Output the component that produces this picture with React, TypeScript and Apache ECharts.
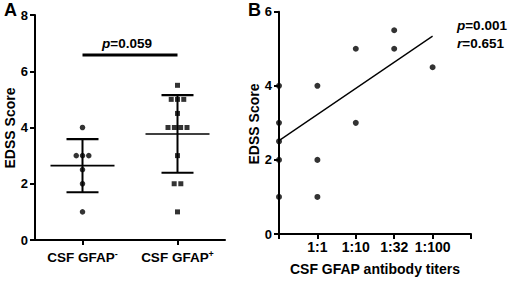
import React, { useEffect, useRef } from "react";
import * as echarts from "echarts";

// Panel A data
const groupLabels = ["CSF GFAP{sup|-}", "CSF GFAP{sup|+}"];
const gfapNeg = [4, 3, 3, 3, 2.5, 2, 1];
const gfapNegJitter = [0, -0.066, 0, 0.066, 0, 0, 0];
const gfapPos = [5.5, 5, 5, 5, 4.5, 4, 4, 4, 4, 3, 2, 2, 1];
const gfapPosJitter = [0, -0.066, 0, 0.066, 0, -0.1, -0.033, 0.033, 0.1, 0, -0.035, 0.035, 0];
const pValueA = "0.059";
const pBarY = 6.58;
const yNameA = "EDSS Score";

// Panel B data
const titerLabels = ["", "1:1", "1:10", "1:32", "1:100", ""];
const titerX = [0, 0, 0, 0, 0, 1, 1, 1, 2, 2, 3, 3, 4];
const titerY = [4, 3, 2.5, 2, 1, 4, 2, 1, 5, 3, 5.5, 5, 4.5];
const fitLine = [
  [0, 2.52],
  [4, 5.34],
];
const pValueB = "0.001";
const rValueB = "0.651";
const yNameB = "EDSS Score";
const xNameB = "CSF GFAP antibody titers";

const FONT = "'Liberation Sans', Arial, sans-serif";

function meanSd(v: number[]) {
  const m = v.reduce((a, b) => a + b, 0) / v.length;
  const s = Math.sqrt(v.reduce((a, b) => a + (b - m) * (b - m), 0) / (v.length - 1));
  return [m, s];
}

export default function App() {
  const ref = useRef<HTMLDivElement>(null);
  useEffect(() => {
    if (!ref.current) return;
    const chart = echarts.init(ref.current, undefined, { renderer: "svg" });
    const [m1, s1] = meanSd(gfapNeg);
    const [m2, s2] = meanSd(gfapPos);
    const errData = [
      [0, m1, m1 - s1, m1 + s1],
      [1, m2, m2 - s2, m2 + s2],
    ];
    const axisLine = { onZero: false, lineStyle: { color: "#000", width: 2 } };
    const axisTick = { length: 5, lineStyle: { color: "#000", width: 2 } };
    const labelStyle = { color: "#000", fontFamily: FONT, fontWeight: "bold" as const, fontSize: 13 };
    const italic = { fontStyle: "italic", fontWeight: "bold", fontSize: 13.5, fontFamily: FONT, fill: "#000" };
    const option: any = {
      animation: false,
      grid: [
        { left: 35, right: 285, top: 15, bottom: 41 },
        { left: 279, right: 39, top: 11.7, bottom: 41 },
      ],
      xAxis: [
        {
          gridIndex: 0,
          type: "value",
          min: -0.5,
          max: 1.5,
          splitLine: { show: false },
          axisLine,
          axisTick: { ...axisTick, customValues: [0, 1] },
          axisLabel: {
            ...labelStyle,
            fontSize: 13.5,
            margin: 9,
            customValues: [0, 1],
            formatter: (v: number) => groupLabels[Math.round(v)] || "",
            rich: { sup: { fontSize: 9, fontWeight: "bold", fontFamily: FONT, color: "#000", verticalAlign: "top", padding: [0, 0, 8, 0] } },
          },
        },
        {
          gridIndex: 1,
          type: "value",
          min: 0,
          max: 5,
          interval: 1,
          splitLine: { show: false },
          axisLine,
          axisTick,
          axisLabel: {
            ...labelStyle,
            fontSize: 14,
            margin: 6,
            formatter: (v: number) => titerLabels[Math.round(v)] || "",
          },
          name: xNameB,
          nameLocation: "middle",
          nameGap: 28,
          nameTextStyle: { ...labelStyle, fontSize: 14 },
        },
      ],
      yAxis: [
        {
          gridIndex: 0,
          type: "value",
          min: 0,
          max: 8,
          interval: 2,
          splitLine: { show: false },
          axisLine: { ...axisLine, show: true },
          axisTick: { ...axisTick, show: true },
          axisLabel: { ...labelStyle, fontSize: 13, margin: 7 },
        },
        {
          gridIndex: 1,
          type: "value",
          min: 0,
          max: 6,
          interval: 2,
          splitLine: { show: false },
          axisLine: { ...axisLine, show: true },
          axisTick: { ...axisTick, show: true },
          axisLabel: { ...labelStyle, fontSize: 13, margin: 7 },
        },
      ],
      series: [
        {
          type: "custom",
          xAxisIndex: 0,
          yAxisIndex: 0,
          data: errData,
          z: 2,
          renderItem: (params: any, api: any) => {
            const x = api.value(0);
            const c = api.coord([x, api.value(1)]);
            const lo = api.coord([x, api.value(2)]);
            const hi = api.coord([x, api.value(3)]);
            return {
              type: "group",
              children: [
                { type: "line", shape: { x1: c[0] - 32, y1: c[1], x2: c[0] + 32, y2: c[1] }, style: { stroke: "#000", lineWidth: 1.6 } },
                { type: "line", shape: { x1: c[0], y1: lo[1], x2: c[0], y2: hi[1] }, style: { stroke: "#000", lineWidth: 2 } },
                { type: "line", shape: { x1: c[0] - 16, y1: hi[1], x2: c[0] + 16, y2: hi[1] }, style: { stroke: "#000", lineWidth: 2.2 } },
                { type: "line", shape: { x1: c[0] - 16, y1: lo[1], x2: c[0] + 16, y2: lo[1] }, style: { stroke: "#000", lineWidth: 2.2 } },
              ],
            };
          },
        },
        {
          type: "scatter",
          xAxisIndex: 0,
          yAxisIndex: 0,
          symbol: "circle",
          symbolSize: 5.5,
          itemStyle: { color: "#000" },
          z: 3,
          data: gfapNeg.map((v, i) => [0 + gfapNegJitter[i], v]),
        },
        {
          type: "scatter",
          xAxisIndex: 0,
          yAxisIndex: 0,
          symbol: "rect",
          symbolSize: 5,
          itemStyle: { color: "#000" },
          z: 3,
          data: gfapPos.map((v, i) => [1 + gfapPosJitter[i], v]),
        },
        {
          type: "line",
          xAxisIndex: 0,
          yAxisIndex: 0,
          symbol: "none",
          lineStyle: { color: "#000", width: 3 },
          data: [
            [0, pBarY],
            [1, pBarY],
          ],
        },
        {
          type: "scatter",
          xAxisIndex: 1,
          yAxisIndex: 1,
          symbol: "circle",
          symbolSize: 6,
          itemStyle: { color: "#000" },
          z: 3,
          data: titerX.map((x, i) => [x, titerY[i]]),
        },
        {
          type: "line",
          xAxisIndex: 1,
          yAxisIndex: 1,
          symbol: "none",
          lineStyle: { color: "#000", width: 1.3 },
          data: fitLine,
        },
      ],
      graphic: [
        {
          type: "text",
          left: 4,
          top: 1,
          style: { text: "A", fontSize: 18, fontWeight: "bold", fontFamily: FONT, fill: "#000" },
        },
        {
          type: "text",
          left: 248,
          top: 1,
          style: { text: "B", fontSize: 18, fontWeight: "bold", fontFamily: FONT, fill: "#000" },
        },
        {
          type: "text",
          x: 10,
          y: 128,
          rotation: Math.PI / 2,
          style: { text: yNameA, align: "center", verticalAlign: "middle", fontSize: 14, fontWeight: "bold", fontFamily: FONT, fill: "#000" },
        },
        {
          type: "text",
          x: 254,
          y: 124,
          rotation: Math.PI / 2,
          style: { text: yNameB, align: "center", verticalAlign: "middle", fontSize: 14, fontWeight: "bold", fontFamily: FONT, fill: "#000" },
        },
        {
          type: "text",
          x: 127,
          y: 43,
          style: {
            text: "{i|p}=" + pValueA,
            align: "center",
            verticalAlign: "middle",
            fontSize: 13.5,
            fontWeight: "bold",
            fontFamily: FONT,
            fill: "#000",
            rich: { i: italic },
          },
        },
        {
          type: "text",
          x: 457,
          y: 25,
          style: {
            text: "{i|p}=" + pValueB,
            verticalAlign: "middle",
            fontSize: 13.5,
            fontWeight: "bold",
            fontFamily: FONT,
            fill: "#000",
            rich: { i: italic },
          },
        },
        {
          type: "text",
          x: 457,
          y: 43,
          style: {
            text: "{i|r}=" + rValueB,
            verticalAlign: "middle",
            fontSize: 13.5,
            fontWeight: "bold",
            fontFamily: FONT,
            fill: "#000",
            rich: { i: italic },
          },
        },
      ],
    };
    chart.setOption(option);
    return () => chart.dispose();
  }, []);
  return (
    <div
      ref={ref}
      style={{ position: "fixed", left: 0, top: 0, width: 510, height: 281, background: "#fff" }}
    />
  );
}
